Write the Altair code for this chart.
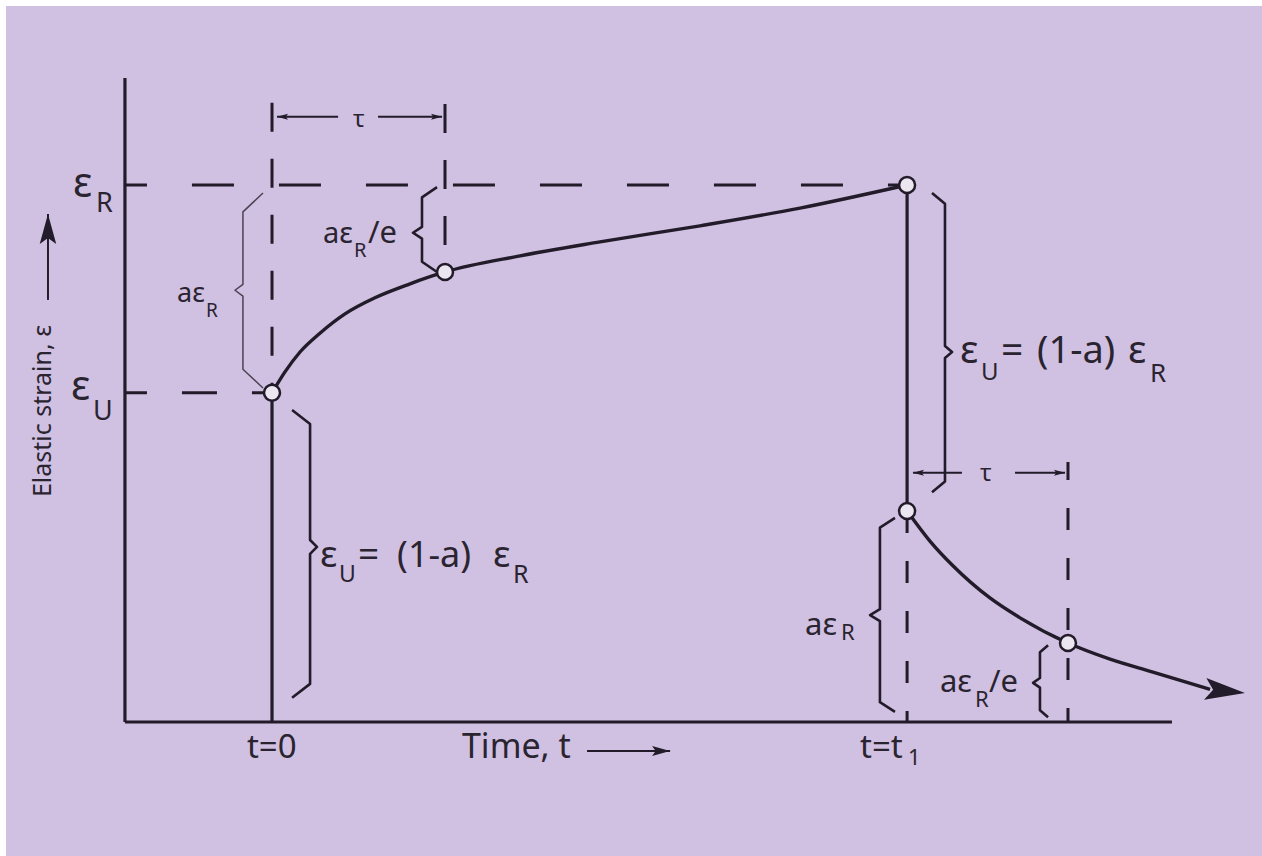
import altair as alt
import pandas as pd

# Frame: time measured in units of tau, strain in units of eps_R
T_MIN, T_MAX = -1.5376, 5.7225
S_MIN, S_MAX = -0.2495, 1.3333

T1 = 3.671          # instant of unloading
T_TAU_UP = 1.0      # one tau after loading
T_TAU_DN = 4.601    # one tau after unloading
EPS_R = 1.0
EPS_U = 0.613
EPS_DROP = 0.393
EPS_TAU_UP = 0.838
EPS_TAU_DN = 0.147

T_AXIS = -0.850
S_AXIS_TOP = 1.199
T_AXIS_END = 5.202

# loading branch (creep toward eps_R)
rise_t = [0, 0.075, 0.162, 0.277, 0.422, 0.595, 0.798, 1.0, 1.434, 1.896, 2.474, 3.052, 3.671]
rise_s = [0.613, 0.652, 0.689, 0.724, 0.760, 0.790, 0.816, 0.838, 0.868, 0.894, 0.924, 0.957, 1.0]

# unloading branch (recovery after t1)
fall_t = [3.671, 3.803, 3.936, 4.150, 4.324, 4.601, 4.844, 5.092, 5.422]
fall_s = [0.393, 0.337, 0.291, 0.231, 0.194, 0.147, 0.117, 0.093, 0.061]

# open markers
mark_t = [0, T_TAU_UP, T1, T1, T_TAU_DN]
mark_s = [EPS_U, EPS_TAU_UP, EPS_R, EPS_DROP, EPS_TAU_DN]

# braces: x_end, x_mid, x_tip, s_top, s_bot, s_tip, hook, notch
braces_thin = [(-0.052, -0.168, -0.214, 0.985, 0.622, 0.804, 0.035, 0.011)]
braces = [
    (0.954, 0.867, 0.815, 0.996, 0.838, 0.911, 0.019, 0.011),
    (0.116, 0.220, 0.260, 0.581, 0.045, 0.326, 0.026, 0.013),
    (3.815, 3.890, 3.931, 0.985, 0.428, 0.689, 0.020, 0.011),
    (3.601, 3.514, 3.457, 0.380, 0.019, 0.199, 0.018, 0.011),
    (4.486, 4.439, 4.399, 0.143, 0.009, 0.073, 0.013, 0.009),
]

# text pieces: label, t, s, font size
lab_txt = ["ε", "R", "ε", "U",
           "aε", "R",
           "aε", "R", "/e",
           "ε", "U", "=", "(1-a)", "ε", "R",
           "ε", "U", "=", "(1-a)", "ε", "R",
           "aε", "R",
           "aε", "R", "/e",
           "τ", "τ",
           "t=0", "Time, t", "t=t", "1"]
lab_t = [-1.150, -1.018, -1.162, -1.035,
         -0.549, -0.382,
         0.295, 0.474, 0.555,
         0.277, 0.387, 0.497, 0.723, 1.277, 1.393,
         3.977, 4.098, 4.214, 4.422, 4.948, 5.075,
         3.081, 3.289,
         3.861, 4.064, 4.145,
         0.468, 4.092,
         -0.145, 1.098, 3.399, 3.676]
lab_s = [0.978, 0.950, 0.600, 0.562,
         0.782, 0.754,
         0.892, 0.866, 0.892,
         0.289, 0.261, 0.289, 0.289, 0.289, 0.259,
         0.669, 0.637, 0.669, 0.669, 0.669, 0.633,
         0.162, 0.153,
         0.056, 0.028, 0.056,
         1.108, 0.449,
         -0.067, -0.067, -0.067, -0.080]
lab_fs = [41, 27, 41, 27,
          27, 19,
          29, 20, 31,
          37, 23, 37, 36, 37, 25,
          39, 24, 39, 38, 39, 26,
          31, 22,
          31, 22, 31,
          24, 24,
          33, 34, 33, 22]

INK = "#221b29"
TXT = "#2a2430"
FONT = "Noto Sans"

xs = alt.Scale(domain=[T_MIN, T_MAX], nice=False, zero=False)
ys = alt.Scale(domain=[S_MIN, S_MAX], nice=False, zero=False)


def X(f="t"):
    return alt.X(f"{f}:Q", scale=xs, axis=None)


def Y(f="s"):
    return alt.Y(f"{f}:Q", scale=ys, axis=None)


def rules(rows, **style):
    df = pd.DataFrame(rows, columns=["t", "s", "t2", "s2"])
    return alt.Chart(df).mark_rule(**style).encode(
        x=X(), y=Y(), x2="t2:Q", y2="s2:Q")


# solid axes and jumps
solid = rules([
    (T_AXIS, 0, T_AXIS, S_AXIS_TOP),
    (T_AXIS, 0, T_AXIS_END, 0),
    (0, 0, 0, EPS_U),
    (T1, EPS_DROP, T1, EPS_R),
], color=INK, strokeWidth=3.2)

# dashed guides
dash_r = rules([(T_AXIS, EPS_R, T1, EPS_R)], color=INK, strokeWidth=3,
               strokeDash=[42, 45], strokeDashOffset=20)
dash_u = rules([(T_AXIS, EPS_U, 0, EPS_U)], color=INK, strokeWidth=3,
               strokeDash=[35, 35], strokeDashOffset=13)
dash_vl = rules([(0, 1.153, 0, EPS_U), (T_TAU_UP, 1.151, T_TAU_UP, EPS_TAU_UP)],
                color=INK, strokeWidth=3, strokeDash=[29, 27])
dash_vr = rules([(T1, EPS_DROP, T1, 0)], color=INK, strokeWidth=3, strokeDash=[22, 28])
dash_vr2 = rules([(T_TAU_DN, 0.484, T_TAU_DN, 0)], color=INK, strokeWidth=3,
                 strokeDash=[22, 28], strokeDashOffset=4)

# dimension arrows
arrows = rules([
    (0.029, 1.127, 0.382, 1.127), (0.613, 1.127, 0.983, 1.127),
    (3.705, 0.464, 3.988, 0.464), (4.295, 0.464, 4.584, 0.464),
    (1.821, -0.054, 2.301, -0.054),
    (-1.295, 0.786, -1.295, 0.946),
], color=INK, strokeWidth=2)

head_df = pd.DataFrame({
    "t": [0.029, 0.983, 3.705, 4.584, 2.301, -1.295, 5.624],
    "s": [1.127, 1.127, 0.464, 0.464, -0.054, 0.946, 0.054],
    "ang": [180, 0, 180, 0, 0, 270, 6],
    "sz": [121, 121, 121, 121, 324, 900, 1600],
})
heads = alt.Chart(head_df).mark_point(
    shape="M0,0L-2,-0.55L-1.6,0L-2,0.55Z", filled=True, color=INK, opacity=1,
    strokeWidth=0).encode(
    x=X(), y=Y(), angle=alt.Angle("ang:Q", scale=None),
    size=alt.Size("sz:Q", scale=None))

# creep and recovery curves
curve_df = pd.concat([
    pd.DataFrame({"c": "rise", "t": rise_t, "s": rise_s, "i": range(len(rise_t))}),
    pd.DataFrame({"c": "fall", "t": fall_t, "s": fall_s, "i": range(len(fall_t))}),
])
curves = alt.Chart(curve_df).mark_line(
    color=INK, strokeWidth=3.4, interpolate="monotone").encode(
    x=X(), y=Y(), detail="c:N", order="i:Q")


def brace_df(specs):
    rows = []
    for k, (xe, xm, xt, st, sb, sp, hk, nt) in enumerate(specs):
        pts = [(xe, st), (xm, st - hk), (xm, sp + nt), (xt, sp),
               (xm, sp - nt), (xm, sb + hk), (xe, sb)]
        for i, (t, s) in enumerate(pts):
            rows.append({"b": k, "i": i, "t": t, "s": s})
    return pd.DataFrame(rows)


brace_main = alt.Chart(brace_df(braces)).mark_line(
    color=INK, strokeWidth=2.6, strokeJoin="round").encode(
    x=X(), y=Y(), detail="b:N", order="i:Q")
brace_light = alt.Chart(brace_df(braces_thin)).mark_line(
    color="#4a4352", strokeWidth=1.5, strokeJoin="round").encode(
    x=X(), y=Y(), detail="b:N", order="i:Q")

markers = alt.Chart(pd.DataFrame({"t": mark_t, "s": mark_s})).mark_point(
    shape="circle", filled=False, fill="#ece6f1", fillOpacity=1, color=INK,
    strokeWidth=2.5, size=256, opacity=1).encode(x=X(), y=Y())

labels = alt.Chart(pd.DataFrame({"txt": lab_txt, "t": lab_t, "s": lab_s, "fs": lab_fs})).mark_text(
    align="left", baseline="alphabetic", font=FONT, color=TXT).encode(
    x=X(), y=Y(), text="txt:N", size=alt.Size("fs:Q", scale=None))

ylab = alt.Chart(pd.DataFrame({"t": [-1.277], "s": [0.579], "txt": ["Elastic strain, ε"]})).mark_text(
    angle=270, align="center", baseline="alphabetic", font=FONT, fontSize=25, color=TXT).encode(
    x=X(), y=Y(), text="txt:N")

chart = alt.layer(
    dash_r, dash_u, dash_vl, dash_vr, dash_vr2,
    solid, curves, brace_main, brace_light, arrows, heads, markers, labels, ylab,
).properties(
    width=1256, height=850,
    padding={"left": 6, "top": 6, "right": 0, "bottom": 0},
    autosize=alt.AutoSizeParams(type="none"),
    background="white",
).configure_view(fill="#d0c0e1", strokeWidth=0)

chart.save("out.html", embed_options={"renderer": "svg", "actions": False})
